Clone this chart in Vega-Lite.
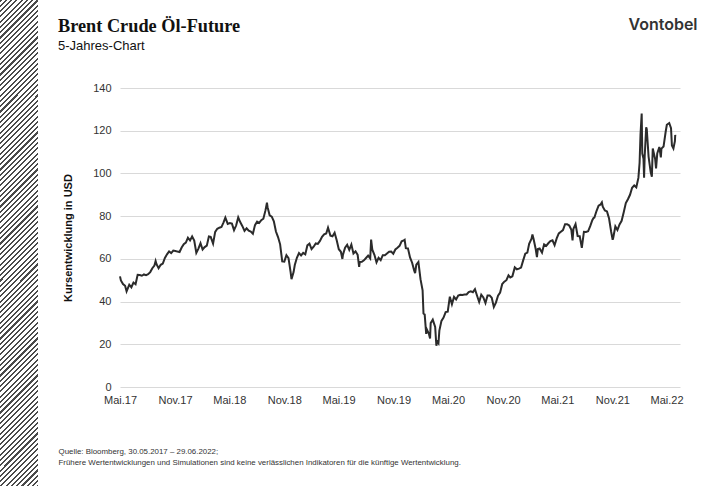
{
  "$schema": "https://vega.github.io/schema/vega-lite/v6.json",
  "width": 560,
  "height": 299,
  "autosize": {"type": "none"},
  "padding": {"left": 120, "top": 88, "right": 35, "bottom": 99},
  "background": "#ffffff",
  "config": {"view": {"stroke": null}, "font": "Liberation Sans"},
  "title": {
    "text": "Brent Crude Öl-Future",
    "subtitle": "5-Jahres-Chart",
    "anchor": "start",
    "frame": "group",
    "dx": -62,
    "offset": -54,
    "font": "Liberation Serif",
    "fontSize": 18.3,
    "fontWeight": "bold",
    "color": "#111111",
    "subtitleFont": "Liberation Sans",
    "subtitleFontSize": 13,
    "subtitleColor": "#111111",
    "subtitlePadding": 4
  },
  "resolve": {"axis": {"x": "independent"}},
  "layer": [
    {
      "data": {"values": [{"k": 1}]},
      "mark": {
        "type": "rect",
        "fill": {
          "gradient": "linear",
          "x1": 0, "y1": 0, "x2": 0.0845, "y2": 1.08,
          "stops": [
{"offset":0,"color":"#4a4a4a"},{"offset":0.004,"color":"#4a4a4a"},{"offset":0.004,"color":"#fff"},{"offset":0.01,"color":"#fff"},
{"offset":0.01,"color":"#4a4a4a"},{"offset":0.014,"color":"#4a4a4a"},{"offset":0.014,"color":"#fff"},{"offset":0.02,"color":"#fff"},
{"offset":0.02,"color":"#4a4a4a"},{"offset":0.024,"color":"#4a4a4a"},{"offset":0.024,"color":"#fff"},{"offset":0.03,"color":"#fff"},
{"offset":0.03,"color":"#4a4a4a"},{"offset":0.034,"color":"#4a4a4a"},{"offset":0.034,"color":"#fff"},{"offset":0.04,"color":"#fff"},
{"offset":0.04,"color":"#4a4a4a"},{"offset":0.044,"color":"#4a4a4a"},{"offset":0.044,"color":"#fff"},{"offset":0.05,"color":"#fff"},
{"offset":0.05,"color":"#4a4a4a"},{"offset":0.054,"color":"#4a4a4a"},{"offset":0.054,"color":"#fff"},{"offset":0.06,"color":"#fff"},
{"offset":0.06,"color":"#4a4a4a"},{"offset":0.064,"color":"#4a4a4a"},{"offset":0.064,"color":"#fff"},{"offset":0.07,"color":"#fff"},
{"offset":0.07,"color":"#4a4a4a"},{"offset":0.074,"color":"#4a4a4a"},{"offset":0.074,"color":"#fff"},{"offset":0.08,"color":"#fff"},
{"offset":0.08,"color":"#4a4a4a"},{"offset":0.084,"color":"#4a4a4a"},{"offset":0.084,"color":"#fff"},{"offset":0.09,"color":"#fff"},
{"offset":0.09,"color":"#4a4a4a"},{"offset":0.094,"color":"#4a4a4a"},{"offset":0.094,"color":"#fff"},{"offset":0.10,"color":"#fff"},
{"offset":0.10,"color":"#4a4a4a"},{"offset":0.104,"color":"#4a4a4a"},{"offset":0.104,"color":"#fff"},{"offset":0.11,"color":"#fff"},
{"offset":0.11,"color":"#4a4a4a"},{"offset":0.114,"color":"#4a4a4a"},{"offset":0.114,"color":"#fff"},{"offset":0.12,"color":"#fff"},
{"offset":0.12,"color":"#4a4a4a"},{"offset":0.124,"color":"#4a4a4a"},{"offset":0.124,"color":"#fff"},{"offset":0.13,"color":"#fff"},
{"offset":0.13,"color":"#4a4a4a"},{"offset":0.134,"color":"#4a4a4a"},{"offset":0.134,"color":"#fff"},{"offset":0.14,"color":"#fff"},
{"offset":0.14,"color":"#4a4a4a"},{"offset":0.144,"color":"#4a4a4a"},{"offset":0.144,"color":"#fff"},{"offset":0.15,"color":"#fff"},
{"offset":0.15,"color":"#4a4a4a"},{"offset":0.154,"color":"#4a4a4a"},{"offset":0.154,"color":"#fff"},{"offset":0.16,"color":"#fff"},
{"offset":0.16,"color":"#4a4a4a"},{"offset":0.164,"color":"#4a4a4a"},{"offset":0.164,"color":"#fff"},{"offset":0.17,"color":"#fff"},
{"offset":0.17,"color":"#4a4a4a"},{"offset":0.174,"color":"#4a4a4a"},{"offset":0.174,"color":"#fff"},{"offset":0.18,"color":"#fff"},
{"offset":0.18,"color":"#4a4a4a"},{"offset":0.184,"color":"#4a4a4a"},{"offset":0.184,"color":"#fff"},{"offset":0.19,"color":"#fff"},
{"offset":0.19,"color":"#4a4a4a"},{"offset":0.194,"color":"#4a4a4a"},{"offset":0.194,"color":"#fff"},{"offset":0.20,"color":"#fff"},
{"offset":0.20,"color":"#4a4a4a"},{"offset":0.204,"color":"#4a4a4a"},{"offset":0.204,"color":"#fff"},{"offset":0.21,"color":"#fff"},
{"offset":0.21,"color":"#4a4a4a"},{"offset":0.214,"color":"#4a4a4a"},{"offset":0.214,"color":"#fff"},{"offset":0.22,"color":"#fff"},
{"offset":0.22,"color":"#4a4a4a"},{"offset":0.224,"color":"#4a4a4a"},{"offset":0.224,"color":"#fff"},{"offset":0.23,"color":"#fff"},
{"offset":0.23,"color":"#4a4a4a"},{"offset":0.234,"color":"#4a4a4a"},{"offset":0.234,"color":"#fff"},{"offset":0.24,"color":"#fff"},
{"offset":0.24,"color":"#4a4a4a"},{"offset":0.244,"color":"#4a4a4a"},{"offset":0.244,"color":"#fff"},{"offset":0.25,"color":"#fff"},
{"offset":0.25,"color":"#4a4a4a"},{"offset":0.254,"color":"#4a4a4a"},{"offset":0.254,"color":"#fff"},{"offset":0.26,"color":"#fff"},
{"offset":0.26,"color":"#4a4a4a"},{"offset":0.264,"color":"#4a4a4a"},{"offset":0.264,"color":"#fff"},{"offset":0.27,"color":"#fff"},
{"offset":0.27,"color":"#4a4a4a"},{"offset":0.274,"color":"#4a4a4a"},{"offset":0.274,"color":"#fff"},{"offset":0.28,"color":"#fff"},
{"offset":0.28,"color":"#4a4a4a"},{"offset":0.284,"color":"#4a4a4a"},{"offset":0.284,"color":"#fff"},{"offset":0.29,"color":"#fff"},
{"offset":0.29,"color":"#4a4a4a"},{"offset":0.294,"color":"#4a4a4a"},{"offset":0.294,"color":"#fff"},{"offset":0.30,"color":"#fff"},
{"offset":0.30,"color":"#4a4a4a"},{"offset":0.304,"color":"#4a4a4a"},{"offset":0.304,"color":"#fff"},{"offset":0.31,"color":"#fff"},
{"offset":0.31,"color":"#4a4a4a"},{"offset":0.314,"color":"#4a4a4a"},{"offset":0.314,"color":"#fff"},{"offset":0.32,"color":"#fff"},
{"offset":0.32,"color":"#4a4a4a"},{"offset":0.324,"color":"#4a4a4a"},{"offset":0.324,"color":"#fff"},{"offset":0.33,"color":"#fff"},
{"offset":0.33,"color":"#4a4a4a"},{"offset":0.334,"color":"#4a4a4a"},{"offset":0.334,"color":"#fff"},{"offset":0.34,"color":"#fff"},
{"offset":0.34,"color":"#4a4a4a"},{"offset":0.344,"color":"#4a4a4a"},{"offset":0.344,"color":"#fff"},{"offset":0.35,"color":"#fff"},
{"offset":0.35,"color":"#4a4a4a"},{"offset":0.354,"color":"#4a4a4a"},{"offset":0.354,"color":"#fff"},{"offset":0.36,"color":"#fff"},
{"offset":0.36,"color":"#4a4a4a"},{"offset":0.364,"color":"#4a4a4a"},{"offset":0.364,"color":"#fff"},{"offset":0.37,"color":"#fff"},
{"offset":0.37,"color":"#4a4a4a"},{"offset":0.374,"color":"#4a4a4a"},{"offset":0.374,"color":"#fff"},{"offset":0.38,"color":"#fff"},
{"offset":0.38,"color":"#4a4a4a"},{"offset":0.384,"color":"#4a4a4a"},{"offset":0.384,"color":"#fff"},{"offset":0.39,"color":"#fff"},
{"offset":0.39,"color":"#4a4a4a"},{"offset":0.394,"color":"#4a4a4a"},{"offset":0.394,"color":"#fff"},{"offset":0.40,"color":"#fff"},
{"offset":0.40,"color":"#4a4a4a"},{"offset":0.404,"color":"#4a4a4a"},{"offset":0.404,"color":"#fff"},{"offset":0.41,"color":"#fff"},
{"offset":0.41,"color":"#4a4a4a"},{"offset":0.414,"color":"#4a4a4a"},{"offset":0.414,"color":"#fff"},{"offset":0.42,"color":"#fff"},
{"offset":0.42,"color":"#4a4a4a"},{"offset":0.424,"color":"#4a4a4a"},{"offset":0.424,"color":"#fff"},{"offset":0.43,"color":"#fff"},
{"offset":0.43,"color":"#4a4a4a"},{"offset":0.434,"color":"#4a4a4a"},{"offset":0.434,"color":"#fff"},{"offset":0.44,"color":"#fff"},
{"offset":0.44,"color":"#4a4a4a"},{"offset":0.444,"color":"#4a4a4a"},{"offset":0.444,"color":"#fff"},{"offset":0.45,"color":"#fff"},
{"offset":0.45,"color":"#4a4a4a"},{"offset":0.454,"color":"#4a4a4a"},{"offset":0.454,"color":"#fff"},{"offset":0.46,"color":"#fff"},
{"offset":0.46,"color":"#4a4a4a"},{"offset":0.464,"color":"#4a4a4a"},{"offset":0.464,"color":"#fff"},{"offset":0.47,"color":"#fff"},
{"offset":0.47,"color":"#4a4a4a"},{"offset":0.474,"color":"#4a4a4a"},{"offset":0.474,"color":"#fff"},{"offset":0.48,"color":"#fff"},
{"offset":0.48,"color":"#4a4a4a"},{"offset":0.484,"color":"#4a4a4a"},{"offset":0.484,"color":"#fff"},{"offset":0.49,"color":"#fff"},
{"offset":0.49,"color":"#4a4a4a"},{"offset":0.494,"color":"#4a4a4a"},{"offset":0.494,"color":"#fff"},{"offset":0.50,"color":"#fff"},
{"offset":0.50,"color":"#4a4a4a"},{"offset":0.504,"color":"#4a4a4a"},{"offset":0.504,"color":"#fff"},{"offset":0.51,"color":"#fff"},
{"offset":0.51,"color":"#4a4a4a"},{"offset":0.514,"color":"#4a4a4a"},{"offset":0.514,"color":"#fff"},{"offset":0.52,"color":"#fff"},
{"offset":0.52,"color":"#4a4a4a"},{"offset":0.524,"color":"#4a4a4a"},{"offset":0.524,"color":"#fff"},{"offset":0.53,"color":"#fff"},
{"offset":0.53,"color":"#4a4a4a"},{"offset":0.534,"color":"#4a4a4a"},{"offset":0.534,"color":"#fff"},{"offset":0.54,"color":"#fff"},
{"offset":0.54,"color":"#4a4a4a"},{"offset":0.544,"color":"#4a4a4a"},{"offset":0.544,"color":"#fff"},{"offset":0.55,"color":"#fff"},
{"offset":0.55,"color":"#4a4a4a"},{"offset":0.554,"color":"#4a4a4a"},{"offset":0.554,"color":"#fff"},{"offset":0.56,"color":"#fff"},
{"offset":0.56,"color":"#4a4a4a"},{"offset":0.564,"color":"#4a4a4a"},{"offset":0.564,"color":"#fff"},{"offset":0.57,"color":"#fff"},
{"offset":0.57,"color":"#4a4a4a"},{"offset":0.574,"color":"#4a4a4a"},{"offset":0.574,"color":"#fff"},{"offset":0.58,"color":"#fff"},
{"offset":0.58,"color":"#4a4a4a"},{"offset":0.584,"color":"#4a4a4a"},{"offset":0.584,"color":"#fff"},{"offset":0.59,"color":"#fff"},
{"offset":0.59,"color":"#4a4a4a"},{"offset":0.594,"color":"#4a4a4a"},{"offset":0.594,"color":"#fff"},{"offset":0.60,"color":"#fff"},
{"offset":0.60,"color":"#4a4a4a"},{"offset":0.604,"color":"#4a4a4a"},{"offset":0.604,"color":"#fff"},{"offset":0.61,"color":"#fff"},
{"offset":0.61,"color":"#4a4a4a"},{"offset":0.614,"color":"#4a4a4a"},{"offset":0.614,"color":"#fff"},{"offset":0.62,"color":"#fff"},
{"offset":0.62,"color":"#4a4a4a"},{"offset":0.624,"color":"#4a4a4a"},{"offset":0.624,"color":"#fff"},{"offset":0.63,"color":"#fff"},
{"offset":0.63,"color":"#4a4a4a"},{"offset":0.634,"color":"#4a4a4a"},{"offset":0.634,"color":"#fff"},{"offset":0.64,"color":"#fff"},
{"offset":0.64,"color":"#4a4a4a"},{"offset":0.644,"color":"#4a4a4a"},{"offset":0.644,"color":"#fff"},{"offset":0.65,"color":"#fff"},
{"offset":0.65,"color":"#4a4a4a"},{"offset":0.654,"color":"#4a4a4a"},{"offset":0.654,"color":"#fff"},{"offset":0.66,"color":"#fff"},
{"offset":0.66,"color":"#4a4a4a"},{"offset":0.664,"color":"#4a4a4a"},{"offset":0.664,"color":"#fff"},{"offset":0.67,"color":"#fff"},
{"offset":0.67,"color":"#4a4a4a"},{"offset":0.674,"color":"#4a4a4a"},{"offset":0.674,"color":"#fff"},{"offset":0.68,"color":"#fff"},
{"offset":0.68,"color":"#4a4a4a"},{"offset":0.684,"color":"#4a4a4a"},{"offset":0.684,"color":"#fff"},{"offset":0.69,"color":"#fff"},
{"offset":0.69,"color":"#4a4a4a"},{"offset":0.694,"color":"#4a4a4a"},{"offset":0.694,"color":"#fff"},{"offset":0.70,"color":"#fff"},
{"offset":0.70,"color":"#4a4a4a"},{"offset":0.704,"color":"#4a4a4a"},{"offset":0.704,"color":"#fff"},{"offset":0.71,"color":"#fff"},
{"offset":0.71,"color":"#4a4a4a"},{"offset":0.714,"color":"#4a4a4a"},{"offset":0.714,"color":"#fff"},{"offset":0.72,"color":"#fff"},
{"offset":0.72,"color":"#4a4a4a"},{"offset":0.724,"color":"#4a4a4a"},{"offset":0.724,"color":"#fff"},{"offset":0.73,"color":"#fff"},
{"offset":0.73,"color":"#4a4a4a"},{"offset":0.734,"color":"#4a4a4a"},{"offset":0.734,"color":"#fff"},{"offset":0.74,"color":"#fff"},
{"offset":0.74,"color":"#4a4a4a"},{"offset":0.744,"color":"#4a4a4a"},{"offset":0.744,"color":"#fff"},{"offset":0.75,"color":"#fff"},
{"offset":0.75,"color":"#4a4a4a"},{"offset":0.754,"color":"#4a4a4a"},{"offset":0.754,"color":"#fff"},{"offset":0.76,"color":"#fff"},
{"offset":0.76,"color":"#4a4a4a"},{"offset":0.764,"color":"#4a4a4a"},{"offset":0.764,"color":"#fff"},{"offset":0.77,"color":"#fff"},
{"offset":0.77,"color":"#4a4a4a"},{"offset":0.774,"color":"#4a4a4a"},{"offset":0.774,"color":"#fff"},{"offset":0.78,"color":"#fff"},
{"offset":0.78,"color":"#4a4a4a"},{"offset":0.784,"color":"#4a4a4a"},{"offset":0.784,"color":"#fff"},{"offset":0.79,"color":"#fff"},
{"offset":0.79,"color":"#4a4a4a"},{"offset":0.794,"color":"#4a4a4a"},{"offset":0.794,"color":"#fff"},{"offset":0.80,"color":"#fff"},
{"offset":0.80,"color":"#4a4a4a"},{"offset":0.804,"color":"#4a4a4a"},{"offset":0.804,"color":"#fff"},{"offset":0.81,"color":"#fff"},
{"offset":0.81,"color":"#4a4a4a"},{"offset":0.814,"color":"#4a4a4a"},{"offset":0.814,"color":"#fff"},{"offset":0.82,"color":"#fff"},
{"offset":0.82,"color":"#4a4a4a"},{"offset":0.824,"color":"#4a4a4a"},{"offset":0.824,"color":"#fff"},{"offset":0.83,"color":"#fff"},
{"offset":0.83,"color":"#4a4a4a"},{"offset":0.834,"color":"#4a4a4a"},{"offset":0.834,"color":"#fff"},{"offset":0.84,"color":"#fff"},
{"offset":0.84,"color":"#4a4a4a"},{"offset":0.844,"color":"#4a4a4a"},{"offset":0.844,"color":"#fff"},{"offset":0.85,"color":"#fff"},
{"offset":0.85,"color":"#4a4a4a"},{"offset":0.854,"color":"#4a4a4a"},{"offset":0.854,"color":"#fff"},{"offset":0.86,"color":"#fff"},
{"offset":0.86,"color":"#4a4a4a"},{"offset":0.864,"color":"#4a4a4a"},{"offset":0.864,"color":"#fff"},{"offset":0.87,"color":"#fff"},
{"offset":0.87,"color":"#4a4a4a"},{"offset":0.874,"color":"#4a4a4a"},{"offset":0.874,"color":"#fff"},{"offset":0.88,"color":"#fff"},
{"offset":0.88,"color":"#4a4a4a"},{"offset":0.884,"color":"#4a4a4a"},{"offset":0.884,"color":"#fff"},{"offset":0.89,"color":"#fff"},
{"offset":0.89,"color":"#4a4a4a"},{"offset":0.894,"color":"#4a4a4a"},{"offset":0.894,"color":"#fff"},{"offset":0.90,"color":"#fff"},
{"offset":0.90,"color":"#4a4a4a"},{"offset":0.904,"color":"#4a4a4a"},{"offset":0.904,"color":"#fff"},{"offset":0.91,"color":"#fff"},
{"offset":0.91,"color":"#4a4a4a"},{"offset":0.914,"color":"#4a4a4a"},{"offset":0.914,"color":"#fff"},{"offset":0.92,"color":"#fff"},
{"offset":0.92,"color":"#4a4a4a"},{"offset":0.924,"color":"#4a4a4a"},{"offset":0.924,"color":"#fff"},{"offset":0.93,"color":"#fff"},
{"offset":0.93,"color":"#4a4a4a"},{"offset":0.934,"color":"#4a4a4a"},{"offset":0.934,"color":"#fff"},{"offset":0.94,"color":"#fff"},
{"offset":0.94,"color":"#4a4a4a"},{"offset":0.944,"color":"#4a4a4a"},{"offset":0.944,"color":"#fff"},{"offset":0.95,"color":"#fff"},
{"offset":0.95,"color":"#4a4a4a"},{"offset":0.954,"color":"#4a4a4a"},{"offset":0.954,"color":"#fff"},{"offset":0.96,"color":"#fff"},
{"offset":0.96,"color":"#4a4a4a"},{"offset":0.964,"color":"#4a4a4a"},{"offset":0.964,"color":"#fff"},{"offset":0.97,"color":"#fff"},
{"offset":0.97,"color":"#4a4a4a"},{"offset":0.974,"color":"#4a4a4a"},{"offset":0.974,"color":"#fff"},{"offset":0.98,"color":"#fff"},
{"offset":0.98,"color":"#4a4a4a"},{"offset":0.984,"color":"#4a4a4a"},{"offset":0.984,"color":"#fff"},{"offset":0.99,"color":"#fff"},
{"offset":0.99,"color":"#4a4a4a"},{"offset":0.994,"color":"#4a4a4a"},{"offset":0.994,"color":"#fff"},{"offset":1,"color":"#fff"}
          ]
        }
      },
      "encoding": {
        "x": {"value": -120},
        "x2": {"value": -82},
        "y": {"value": -88},
        "y2": {"value": 398}
      }
    },
    {
      "data": {"name": "brent"},
      "mark": {"type": "line", "color": "#2b2b2b", "strokeWidth": 2},
      "encoding": {
        "x": {
          "field": "d", "type": "temporal",
          "scale": {"type": "utc", "domain": [{"year": 2017, "month": 5, "date": 30, "utc": true}, {"year": 2022, "month": 7, "date": 14, "utc": true}]},
          "axis": {
            "orient": "bottom",
            "values": [
              {"year": 2017, "month": 5, "date": 30, "utc": true},
              {"year": 2017, "month": 11, "date": 30, "utc": true},
              {"year": 2018, "month": 5, "date": 30, "utc": true},
              {"year": 2018, "month": 11, "date": 30, "utc": true},
              {"year": 2019, "month": 5, "date": 30, "utc": true},
              {"year": 2019, "month": 11, "date": 30, "utc": true},
              {"year": 2020, "month": 5, "date": 30, "utc": true},
              {"year": 2020, "month": 11, "date": 30, "utc": true},
              {"year": 2021, "month": 5, "date": 30, "utc": true},
              {"year": 2021, "month": 11, "date": 30, "utc": true},
              {"year": 2022, "month": 5, "date": 30, "utc": true}
            ],
            "labelExpr": "(utcmonth(datum.value) == 4 ? 'Mai.' : 'Nov.') + utcFormat(datum.value, '%y')",
            "labelFont": "Liberation Sans",
            "labelFontSize": 11,
            "labelColor": "#333333",
            "labelPadding": 7,
            "labelOverlap": false,
            "labelFlush": false,
            "ticks": false,
            "domain": false,
            "grid": false,
            "title": ["Quelle: Bloomberg, 30.05.2017 – 29.06.2022;", "Frühere Wertentwicklungen und Simulationen sind keine verlässlichen Indikatoren für die künftige Wertentwicklung."],
            "titleFont": "Liberation Sans",
            "titleFontSize": 7.9,
            "titleFontWeight": "normal",
            "titleColor": "#333333",
            "titleLineHeight": 11,
            "titleAnchor": "start",
            "titleAlign": "left",
            "titleBaseline": "top",
            "titleX": -62,
            "titleY": 60
          }
        },
        "y": {
          "field": "v", "type": "quantitative",
          "scale": {"domain": [0, 140], "nice": false, "zero": true},
          "axis": {
            "values": [0, 20, 40, 60, 80, 100, 120, 140],
            "labelFont": "Liberation Sans",
            "labelFontSize": 11,
            "labelColor": "#333333",
            "labelPadding": 9,
            "ticks": false,
            "domain": false,
            "grid": true,
            "gridColor": "#d9d9d9",
            "gridWidth": 1,
            "title": "Kursentwicklung in USD",
            "titleFont": "Liberation Sans",
            "titleFontSize": 11,
            "titleFontWeight": "bold",
            "titleColor": "#111111",
            "titleAngle": -90,
            "titleAlign": "center",
            "titleBaseline": "middle",
            "titleX": -52,
            "titleY": 149.5
          }
        }
      }
    },
    {
      "data": {"values": [{"d": "2017-05-30", "v": 51.8}]},
      "mark": {"type": "point", "opacity": 0},
      "encoding": {
        "x": {
          "field": "d", "type": "temporal",
          "axis": {
            "orient": "top",
            "labels": false,
            "ticks": false,
            "domain": false,
            "grid": false,
            "title": "Vontobel",
            "titleFont": "Inter",
            "titleFontSize": 16,
            "titleFontWeight": 600,
            "titleColor": "#333333",
            "titleAlign": "center",
            "titleBaseline": "middle",
            "titleX": 542.5,
            "titleY": -64
          }
        },
        "y": {"field": "v", "type": "quantitative"}
      }
    }
  ],
  "datasets": {
    "brent": [
      {"d":"2017-05-30","v":51.8},{"d":"2017-06-02","v":49.9},{"d":"2017-06-09","v":48.2},{"d":"2017-06-16","v":47.4},{"d":"2017-06-21","v":44.8},{"d":"2017-06-23","v":45.5},{"d":"2017-06-30","v":47.9},
      {"d":"2017-07-07","v":46.7},{"d":"2017-07-14","v":48.9},{"d":"2017-07-21","v":48.1},{"d":"2017-07-28","v":52.5},{"d":"2017-08-04","v":52.4},{"d":"2017-08-11","v":52.1},{"d":"2017-08-18","v":52.7},{"d":"2017-08-25","v":52.4},
      {"d":"2017-09-01","v":52.8},{"d":"2017-09-08","v":53.8},{"d":"2017-09-15","v":55.6},{"d":"2017-09-22","v":56.9},{"d":"2017-09-26","v":59.0},{"d":"2017-09-29","v":57.5},
      {"d":"2017-10-06","v":55.6},{"d":"2017-10-13","v":57.2},{"d":"2017-10-20","v":57.8},{"d":"2017-10-27","v":60.4},{"d":"2017-11-03","v":62.1},{"d":"2017-11-10","v":63.5},{"d":"2017-11-17","v":62.7},{"d":"2017-11-24","v":63.9},
      {"d":"2017-12-01","v":63.7},{"d":"2017-12-08","v":63.4},{"d":"2017-12-15","v":63.2},{"d":"2017-12-22","v":65.3},{"d":"2017-12-29","v":66.9},
      {"d":"2018-01-05","v":67.6},{"d":"2018-01-12","v":69.9},{"d":"2018-01-19","v":68.6},{"d":"2018-01-26","v":70.5},{"d":"2018-02-02","v":68.6},{"d":"2018-02-09","v":62.8},{"d":"2018-02-16","v":64.8},{"d":"2018-02-23","v":67.3},
      {"d":"2018-03-02","v":64.4},{"d":"2018-03-09","v":65.5},{"d":"2018-03-16","v":66.2},{"d":"2018-03-23","v":70.5},{"d":"2018-03-29","v":70.3},{"d":"2018-04-06","v":67.1},{"d":"2018-04-13","v":72.6},{"d":"2018-04-20","v":74.1},{"d":"2018-04-27","v":74.6},
      {"d":"2018-05-04","v":74.9},{"d":"2018-05-11","v":77.1},{"d":"2018-05-17","v":79.3},{"d":"2018-05-25","v":76.4},{"d":"2018-06-01","v":76.8},{"d":"2018-06-08","v":76.5},{"d":"2018-06-15","v":73.4},{"d":"2018-06-22","v":75.6},{"d":"2018-06-29","v":79.4},
      {"d":"2018-07-06","v":77.1},{"d":"2018-07-13","v":75.3},{"d":"2018-07-20","v":73.1},{"d":"2018-07-27","v":74.3},{"d":"2018-08-03","v":73.2},{"d":"2018-08-10","v":72.8},{"d":"2018-08-17","v":71.8},{"d":"2018-08-24","v":75.8},{"d":"2018-08-31","v":77.4},
      {"d":"2018-09-07","v":76.8},{"d":"2018-09-14","v":78.1},{"d":"2018-09-21","v":78.8},{"d":"2018-09-28","v":82.7},{"d":"2018-10-03","v":86.3},{"d":"2018-10-05","v":84.2},{"d":"2018-10-12","v":80.4},{"d":"2018-10-19","v":79.8},{"d":"2018-10-26","v":77.6},
      {"d":"2018-11-02","v":72.8},{"d":"2018-11-09","v":70.2},{"d":"2018-11-16","v":66.8},{"d":"2018-11-23","v":58.8},{"d":"2018-11-30","v":58.7},{"d":"2018-12-07","v":61.7},{"d":"2018-12-14","v":60.3},{"d":"2018-12-21","v":53.8},{"d":"2018-12-24","v":50.5},{"d":"2018-12-31","v":53.8},
      {"d":"2019-01-04","v":57.1},{"d":"2019-01-11","v":60.5},{"d":"2019-01-18","v":62.7},{"d":"2019-01-25","v":61.6},{"d":"2019-02-01","v":62.8},{"d":"2019-02-08","v":62.1},{"d":"2019-02-15","v":66.3},{"d":"2019-02-22","v":67.1},
      {"d":"2019-03-01","v":64.6},{"d":"2019-03-08","v":65.7},{"d":"2019-03-15","v":67.2},{"d":"2019-03-22","v":67.0},{"d":"2019-03-29","v":68.4},{"d":"2019-04-05","v":70.3},{"d":"2019-04-12","v":71.5},{"d":"2019-04-19","v":71.9},{"d":"2019-04-25","v":74.6},
      {"d":"2019-05-03","v":70.9},{"d":"2019-05-10","v":70.6},{"d":"2019-05-17","v":72.2},{"d":"2019-05-24","v":68.7},{"d":"2019-05-31","v":64.5},{"d":"2019-06-07","v":63.3},{"d":"2019-06-12","v":59.97},{"d":"2019-06-14","v":62.0},{"d":"2019-06-21","v":65.2},{"d":"2019-06-28","v":66.6},
      {"d":"2019-07-05","v":64.2},{"d":"2019-07-12","v":66.7},{"d":"2019-07-19","v":62.5},{"d":"2019-07-26","v":63.5},{"d":"2019-08-02","v":61.9},{"d":"2019-08-07","v":56.2},{"d":"2019-08-09","v":58.5},{"d":"2019-08-16","v":58.6},{"d":"2019-08-23","v":59.3},{"d":"2019-08-30","v":60.4},
      {"d":"2019-09-06","v":61.5},{"d":"2019-09-13","v":60.2},{"d":"2019-09-16","v":69.0},{"d":"2019-09-20","v":64.3},{"d":"2019-09-27","v":61.9},{"d":"2019-10-04","v":58.4},{"d":"2019-10-11","v":60.5},{"d":"2019-10-18","v":59.4},{"d":"2019-10-25","v":61.7},
      {"d":"2019-11-01","v":61.7},{"d":"2019-11-08","v":62.5},{"d":"2019-11-15","v":63.3},{"d":"2019-11-22","v":63.4},{"d":"2019-11-29","v":62.4},{"d":"2019-12-06","v":64.4},{"d":"2019-12-13","v":65.2},{"d":"2019-12-20","v":66.1},{"d":"2019-12-27","v":68.2},
      {"d":"2020-01-03","v":68.6},{"d":"2020-01-06","v":68.9},{"d":"2020-01-10","v":65.0},{"d":"2020-01-17","v":64.9},{"d":"2020-01-24","v":60.7},{"d":"2020-01-31","v":58.2},{"d":"2020-02-07","v":54.5},{"d":"2020-02-10","v":53.3},{"d":"2020-02-14","v":57.3},{"d":"2020-02-21","v":58.5},{"d":"2020-02-28","v":50.5},
      {"d":"2020-03-06","v":45.3},{"d":"2020-03-09","v":34.4},{"d":"2020-03-13","v":33.9},{"d":"2020-03-18","v":24.9},{"d":"2020-03-20","v":27.0},{"d":"2020-03-27","v":24.9},{"d":"2020-03-31","v":22.7},{"d":"2020-04-02","v":29.9},{"d":"2020-04-09","v":31.5},{"d":"2020-04-17","v":28.1},{"d":"2020-04-21","v":19.3},{"d":"2020-04-24","v":21.4},{"d":"2020-04-28","v":20.5},
      {"d":"2020-05-01","v":26.4},{"d":"2020-05-08","v":30.97},{"d":"2020-05-15","v":32.5},{"d":"2020-05-22","v":35.1},{"d":"2020-05-29","v":35.3},{"d":"2020-06-05","v":42.3},{"d":"2020-06-12","v":38.7},{"d":"2020-06-19","v":42.2},{"d":"2020-06-26","v":41.0},
      {"d":"2020-07-03","v":42.8},{"d":"2020-07-10","v":43.2},{"d":"2020-07-17","v":43.1},{"d":"2020-07-24","v":43.3},{"d":"2020-07-31","v":43.3},{"d":"2020-08-07","v":44.4},{"d":"2020-08-14","v":44.8},{"d":"2020-08-21","v":44.4},{"d":"2020-08-28","v":45.8},
      {"d":"2020-09-04","v":42.7},{"d":"2020-09-11","v":39.8},{"d":"2020-09-18","v":43.2},{"d":"2020-09-25","v":41.9},{"d":"2020-10-02","v":39.3},{"d":"2020-10-09","v":42.9},{"d":"2020-10-16","v":42.9},{"d":"2020-10-23","v":41.8},{"d":"2020-10-30","v":37.5},
      {"d":"2020-11-06","v":39.5},{"d":"2020-11-13","v":42.8},{"d":"2020-11-20","v":44.2},{"d":"2020-11-27","v":48.2},{"d":"2020-12-04","v":49.3},{"d":"2020-12-11","v":50.0},{"d":"2020-12-18","v":52.3},{"d":"2020-12-24","v":51.3},{"d":"2020-12-31","v":51.8},
      {"d":"2021-01-08","v":56.0},{"d":"2021-01-15","v":55.1},{"d":"2021-01-22","v":55.4},{"d":"2021-01-29","v":55.9},{"d":"2021-02-05","v":59.3},{"d":"2021-02-12","v":62.4},{"d":"2021-02-19","v":62.9},{"d":"2021-02-25","v":67.0},
      {"d":"2021-03-05","v":69.4},{"d":"2021-03-08","v":71.4},{"d":"2021-03-12","v":69.2},{"d":"2021-03-19","v":64.5},{"d":"2021-03-23","v":60.8},{"d":"2021-03-26","v":64.6},{"d":"2021-04-01","v":64.9},{"d":"2021-04-09","v":62.95},{"d":"2021-04-16","v":66.8},{"d":"2021-04-23","v":66.1},{"d":"2021-04-30","v":67.3},
      {"d":"2021-05-07","v":68.3},{"d":"2021-05-14","v":68.7},{"d":"2021-05-21","v":66.4},{"d":"2021-05-28","v":69.6},{"d":"2021-06-04","v":71.9},{"d":"2021-06-11","v":72.7},{"d":"2021-06-18","v":73.5},{"d":"2021-06-25","v":76.2},
      {"d":"2021-07-02","v":76.2},{"d":"2021-07-09","v":75.6},{"d":"2021-07-16","v":73.6},{"d":"2021-07-20","v":68.6},{"d":"2021-07-23","v":74.1},{"d":"2021-07-30","v":76.3},{"d":"2021-08-06","v":70.7},{"d":"2021-08-13","v":70.6},{"d":"2021-08-20","v":65.2},{"d":"2021-08-27","v":72.7},
      {"d":"2021-09-03","v":72.6},{"d":"2021-09-10","v":72.9},{"d":"2021-09-17","v":75.3},{"d":"2021-09-24","v":78.1},{"d":"2021-09-28","v":79.1},{"d":"2021-10-01","v":79.3},{"d":"2021-10-08","v":82.4},{"d":"2021-10-15","v":84.9},{"d":"2021-10-22","v":85.5},{"d":"2021-10-26","v":86.4},{"d":"2021-10-29","v":84.4},
      {"d":"2021-11-05","v":82.7},{"d":"2021-11-12","v":82.2},{"d":"2021-11-19","v":78.9},{"d":"2021-11-26","v":72.7},{"d":"2021-12-01","v":68.9},{"d":"2021-12-03","v":69.9},{"d":"2021-12-10","v":75.2},{"d":"2021-12-17","v":73.5},{"d":"2021-12-24","v":76.1},{"d":"2021-12-31","v":77.8},
      {"d":"2022-01-07","v":81.8},{"d":"2022-01-14","v":86.1},{"d":"2022-01-21","v":87.9},{"d":"2022-01-28","v":90.0},{"d":"2022-02-04","v":93.3},{"d":"2022-02-11","v":94.4},{"d":"2022-02-18","v":93.5},{"d":"2022-02-25","v":97.9},
      {"d":"2022-03-01","v":105.0},{"d":"2022-03-04","v":118.1},{"d":"2022-03-08","v":128.0},{"d":"2022-03-10","v":109.3},{"d":"2022-03-14","v":106.9},{"d":"2022-03-16","v":98.0},{"d":"2022-03-18","v":107.9},{"d":"2022-03-23","v":121.6},{"d":"2022-03-25","v":120.7},{"d":"2022-03-31","v":107.9},
      {"d":"2022-04-07","v":100.6},{"d":"2022-04-11","v":98.5},{"d":"2022-04-14","v":111.7},{"d":"2022-04-22","v":106.7},{"d":"2022-04-25","v":102.3},{"d":"2022-04-29","v":109.3},
      {"d":"2022-05-06","v":112.4},{"d":"2022-05-11","v":107.5},{"d":"2022-05-13","v":111.6},{"d":"2022-05-20","v":112.6},{"d":"2022-05-27","v":119.4},{"d":"2022-05-31","v":122.8},
      {"d":"2022-06-08","v":123.6},{"d":"2022-06-14","v":121.2},{"d":"2022-06-17","v":113.1},{"d":"2022-06-22","v":111.7},{"d":"2022-06-24","v":113.1},{"d":"2022-06-27","v":115.1},{"d":"2022-06-28","v":118.0},{"d":"2022-06-29","v":117.6}
    ]
  }
}
